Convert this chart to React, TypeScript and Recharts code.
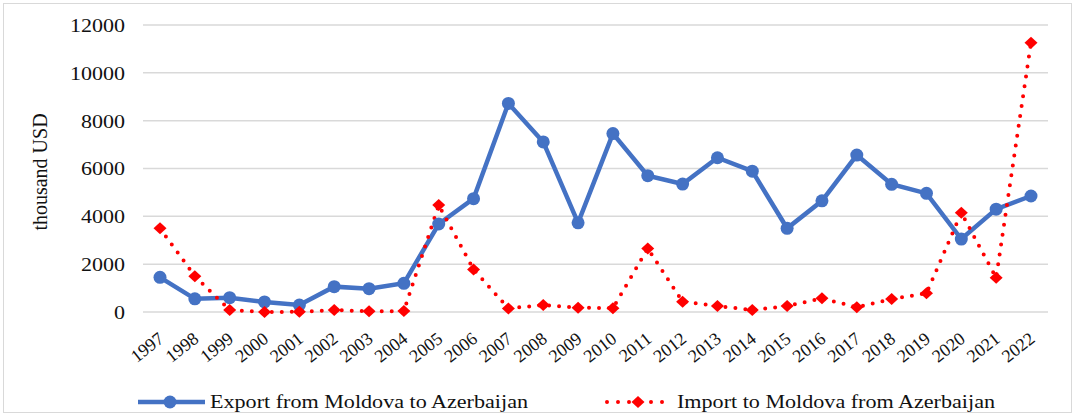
import { LineChart, Line, XAxis, YAxis, CartesianGrid, Legend } from 'recharts';

const years = ['1997', '1998', '1999', '2000', '2001', '2002', '2003', '2004', '2005', '2006', '2007', '2008', '2009',
  '2010', '2011', '2012', '2013', '2014', '2015', '2016', '2017', '2018', '2019', '2020', '2021', '2022'];

const exportValues = [1450, 550, 600, 420, 290, 1060, 975, 1200, 3680, 4740, 8720, 7110, 3730,
  7460, 5700, 5350, 6450, 5890, 3500, 4650, 6560, 5340, 4960, 3050, 4300, 4850];

const importValues = [3500, 1500, 80, 0, 10, 80, 30, 40, 4470, 1780, 150, 290, 180,
  160, 2660, 430, 250, 80, 250, 570, 200, 540, 780, 4150, 1430, 11260];

const yTicks = [0, 2000, 4000, 6000, 8000, 10000, 12000];

const data = years.map((year, i) => ({ year, exp: exportValues[i], imp: importValues[i] }));

const FONT = "'Liberation Serif', 'Times New Roman', serif";
const BLUE = '#4472C4';
const RED = '#FF0000';
const INK = '#111';

// y tick digits are wide in the original, so stretch them a bit
function YTick(props: any) {
  const { x, y, payload } = props;
  const label = String(payload.value);
  return (
    <text x={x} y={y} dy="0.36em" textAnchor="end" fontFamily={FONT} fontSize={19} fill={INK}
      textLength={label.length * 11} lengthAdjust="spacingAndGlyphs">
      {label}
    </text>
  );
}

function XTick(props: any) {
  const { x, y, payload } = props;
  return (
    <g transform={`translate(${x + 5},${y + 29})`}>
      <text x={0} y={0} textAnchor="end" transform="rotate(-38)" fontFamily={FONT} fontSize={18} fill={INK}>
        {payload.value}
      </text>
    </g>
  );
}

function YLabel() {
  return (
    <text x={40} y={172} transform="rotate(-90 40 172)" textAnchor="middle" dominantBaseline="central"
      fontFamily={FONT} fontSize={20} fill={INK}>
      thousand USD
    </text>
  );
}

function Diamond(props: any) {
  const { cx, cy, index } = props;
  if (cx == null || cy == null) return <g key={`d-${index}`} />;
  return <path key={`d-${index}`} d={`M${cx},${cy - 6} L${cx + 6.5},${cy} L${cx},${cy + 6} L${cx - 6.5},${cy} Z`} fill={RED} />;
}

function LegendBox() {
  return (
    <svg width={1048} height={24} style={{ display: 'block' }}>
      <line x1={138} y1={12} x2={205} y2={12} stroke={BLUE} strokeWidth={4.5} />
      <circle cx={170} cy={12} r={6.5} fill={BLUE} />
      <text x={210} y={18} fontFamily={FONT} fontSize={19.5} fill={INK} textLength={318} lengthAdjust="spacingAndGlyphs">
        Export from Moldova to Azerbaijan
      </text>
      <line x1={607} y1={12} x2={663} y2={12} stroke={RED} strokeWidth={4} strokeDasharray="0 11" strokeLinecap="round" />
      <path d="M638,6 L644.5,12 L638,18 L631.5,12 Z" fill={RED} />
      <text x={677} y={18} fontFamily={FONT} fontSize={19.5} fill={INK} textLength={318} lengthAdjust="spacingAndGlyphs">
        Import to Moldova from Azerbaijan
      </text>
    </svg>
  );
}

export default function App() {
  return (
    <div style={{ position: 'absolute', left: 0, top: 0, width: 1075, height: 416, background: '#fff' }}>
      <div style={{ position: 'absolute', left: 3, top: 3, width: 1069, height: 410, border: '1px solid #d9d9d9', boxSizing: 'border-box' }} />
      <LineChart width={1075} height={416} data={data} margin={{ top: 25, right: 27, left: 0, bottom: 2 }}>
        <CartesianGrid vertical={false} stroke="#d9d9d9" strokeWidth={1.5} />
        <XAxis dataKey="year" type="category" interval={0} height={78} axisLine={false} tickLine={false}
          tickSize={0} tickMargin={0} padding={{ left: 17, right: 17 }} tick={<XTick />} />
        <YAxis width={143} domain={[0, 12000]} ticks={yTicks} axisLine={false} tickLine={false}
          tickSize={0} tickMargin={18} tick={<YTick />} label={<YLabel />} />
        <Legend verticalAlign="bottom" height={24} content={() => <LegendBox />} />
        <Line type="linear" dataKey="exp" name="Export from Moldova to Azerbaijan" stroke={BLUE} strokeWidth={4.5}
          dot={{ r: 6.5, fill: BLUE, stroke: 'none' }} activeDot={false} isAnimationActive={false} />
        <Line type="linear" dataKey="imp" name="Import to Moldova from Azerbaijan" stroke={RED} strokeWidth={4}
          strokeDasharray="0 10" strokeLinecap="round" dot={Diamond} activeDot={false} isAnimationActive={false} />
      </LineChart>
    </div>
  );
}
